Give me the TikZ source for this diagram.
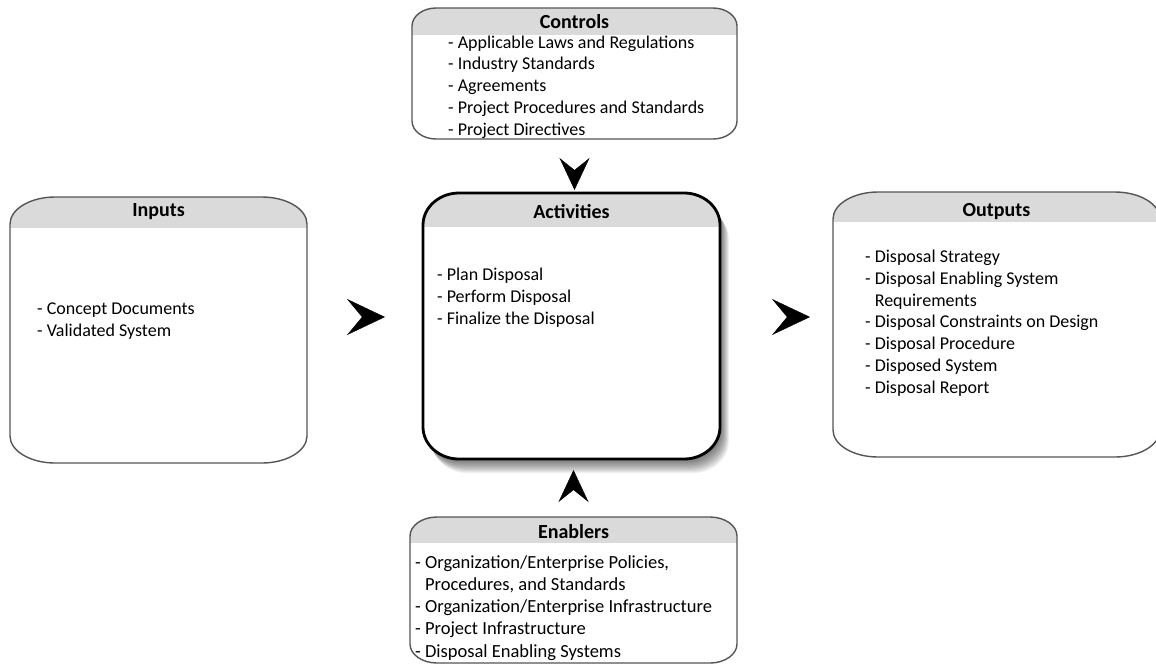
\documentclass[tikz,border=0pt]{standalone}
\usepackage{fontspec}
\setmainfont{Carlito}
\usetikzlibrary{calc,arrows.meta,decorations.markings}
\definecolor{headgray}{RGB}{218,218,218}
\definecolor{edgegray}{RGB}{85,85,85}
\newcommand\boxpath[3]{($(#1.north west)+(0,#3)$) .. controls +(0,-0.55*#3) and +(-0.55*#2,0) .. ($(#1.north west)+(#2,0)$)
  -- ($(#1.north east)+(-#2,0)$) .. controls +(0.55*#2,0) and +(0,-0.55*#3) .. ($(#1.north east)+(0,#3)$)
  -- ($(#1.south east)+(0,-#3)$) .. controls +(0,0.55*#3) and +(0.55*#2,0) .. ($(#1.south east)+(-#2,0)$)
  -- ($(#1.south west)+(#2,0)$) .. controls +(-0.55*#2,0) and +(0,0.55*#3) .. ($(#1.south west)+(0,-#3)$) -- cycle}
\newcommand\panel[5]{%
  \fill[white] \boxpath{#1}{#2}{#3};
  \begin{scope}
    \clip \boxpath{#1}{#2}{#3};
    \fill[headgray] (#1.north west) rectangle ($(#1.north east)+(0,#4)$);
  \end{scope}
  \draw[#5] \boxpath{#1}{#2}{#3};}
\begin{document}
\begin{tikzpicture}[x=1pt, y=-1pt, line join=round,
  frame/.style 2 args={minimum width=#1, minimum height=#2, inner sep=0, outer sep=0, anchor=north west},
  head/.style={font=\fontsize{20}{24}\selectfont\bfseries, inner sep=0},
  list/.style={font=\fontsize{18}{21.7}\selectfont, align=left, inner sep=0, anchor=base west},
  panelline/.style={draw=edgegray, line width=1.4pt},
  actline/.style={draw=black, line width=2.8pt},
  hchev/.tip={Stealth[length=38pt, width=36pt, inset=15pt]},
  vchev/.tip={Stealth[length=32pt, width=30pt, inset=12pt]},
  chev/.style 2 args={postaction=decorate, decoration={markings, mark=at position #1 with {\arrow{#2}}}}]
\useasboundingbox (0,0) rectangle (1156,665);
\node[frame={325pt}{131pt}] (controls) at (412,8) {};
\node[frame={297pt}{266pt}] (inputs) at (10,197) {};
\node[frame={297pt}{266pt}] (act) at (423,193) {};
\node[frame={327pt}{265pt}] (outputs) at (833,192) {};
\node[frame={327pt}{146pt}] (enablers) at (410,517) {};
\foreach \i in {1,...,12}{
  \begin{scope}[transform canvas={shift={(0.5+0.7*\i,1+1.1*\i)}}]
    \fill[black, opacity=0.055] \boxpath{act}{36}{32};
  \end{scope}}
\panel{controls}{24}{18}{27}{panelline}
\panel{inputs}{45}{27}{31}{panelline}
\panel{act}{36}{32}{34}{actline}
\panel{outputs}{45}{27}{30}{panelline}
\panel{enablers}{27}{19}{26}{panelline}
\node[head] (controlsTitle) at ($(controls.north)+(0,14)$) {Controls};
\node[head] (inputsTitle) at ($(inputs.north)+(0,15)$) {Inputs};
\node[head] (actTitle) at ($(act.north)+(0,19)$) {Activities};
\node[head] (outputsTitle) at ($(outputs.north)+(0,20)$) {Outputs};
\node[head] (enablersTitle) at ($(enablers.north)+(0,15)$) {Enablers};
\node[list] (controlsList) at ($(controls.north west)+(36,127)$) {- Applicable Laws and Regulations\\- Industry Standards\\- Agreements\\- Project Procedures and Standards\\- Project Directives};
\node[list] (inputsList) at ($(inputs.north west)+(27,139)$) {- Concept Documents\\- Validated System};
\node[list] (actList) at ($(act.north west)+(14,131)$) {- Plan Disposal\\- Perform Disposal\\- Finalize the Disposal};
\node[list] (outputsList) at ($(outputs.north west)+(32,201)$) {- Disposal Strategy\\- Disposal Enabling System\\\hphantom{- }Requirements\\- Disposal Constraints on Design\\- Disposal Procedure\\- Disposed System\\- Disposal Report};
\node[list, font=\fontsize{18.5}{22.2}\selectfont] (enablersList) at ($(enablers.north west)+(5,140)$) {- Organization/Enterprise Policies,\\\hphantom{- }Procedures, and Standards\\- Organization/Enterprise Infrastructure\\- Project Infrastructure\\- Disposal Enabling Systems};
\path[chev={78pt}{hchev}] (inputs.east |- 0,317) -- (act.west |- 0,317);
\path[chev={90pt}{hchev}] (act.east |- 0,317) -- (outputs.west |- 0,317);
\path[chev={51pt}{vchev}] (controls.south) -- (controls.south |- act.north);
\path[chev={47pt}{vchev}] (enablers.north) -- (enablers.north |- act.south);
\end{tikzpicture}
\end{document}
